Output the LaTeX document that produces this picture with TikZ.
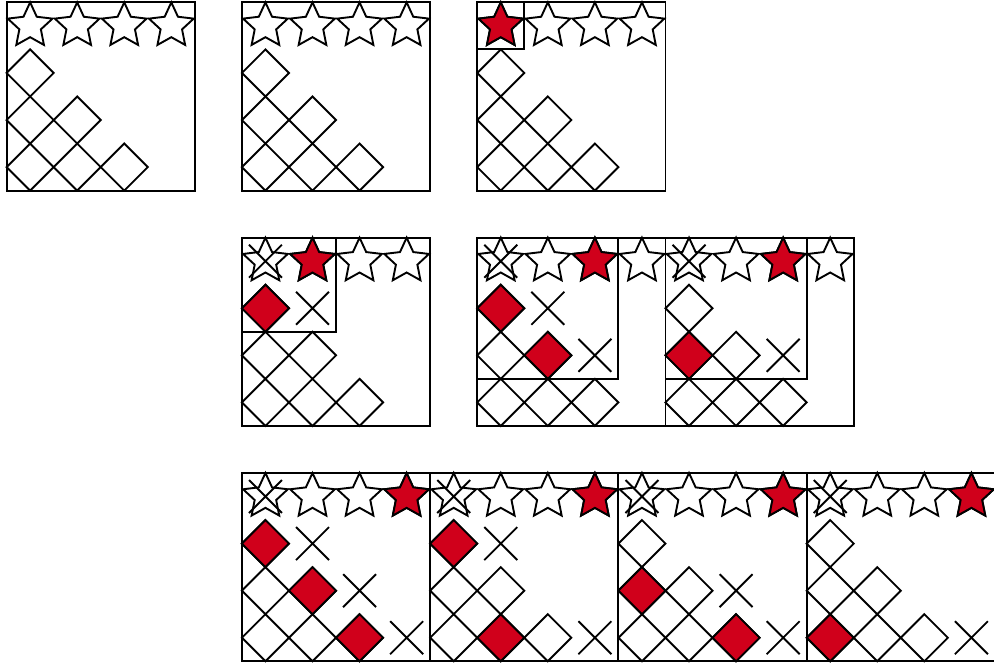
\documentclass[tikz,border=0pt]{standalone}
\usepackage{tikz}
\definecolor{rouge}{RGB}{208,0,27}
\tikzset{
  losange/.pic={\path[draw,pic actions](0,0.5)--(0.5,0)--(0,-0.5)--(-0.5,0)--cycle;},
  etoile/.pic={\path[draw,pic actions](90:0.5)
    \foreach \a in {1,...,9}{--(90+36*\a:{0.37+0.13*cos(180*\a)})}--cycle;},
  croix/.pic={\draw(-0.35,-0.35)--(0.35,0.35)(-0.35,0.35)--(0.35,-0.35);}
}
\newcommand{\grille}{%
  \foreach \c in {0,...,3}{\pic at (\c+0.5,-0.5){etoile};}
  \foreach \c/\r in {0/1,0/2,1/2,0/3,1/3,2/3}{\pic at (\c+0.5,-\r-0.5){losange};}
  \draw(0,0) rectangle (4,-4);}
\newcommand{\marques}[3]{%
  \pic at (0.5,-0.5){croix};
  \pic[fill=rouge] at (#1+0.5,-0.5){etoile};
  \foreach \c/\r in {#2}{\pic[fill=rouge] at (\c+0.5,-\r-0.5){losange};}
  \foreach \c/\r in {#3}{\pic at (\c+0.5,-\r-0.5){croix};}}

\begin{document}
\begin{tikzpicture}[line width=1.15pt]
  \useasboundingbox (-0.14,0.05) rectangle (20.98,-14.12);
  \begin{scope}[shift={(0,0)}]\grille\end{scope}
  \begin{scope}[shift={(5,0)}]\grille\end{scope}
  \begin{scope}[shift={(10,0)}]
    \grille
    \pic[fill=rouge] at (0.5,-0.5){etoile};
    \draw(0,0) rectangle (1,-1);
  \end{scope}
  \begin{scope}[shift={(5,-5)}]
    \grille \marques{1}{0/1}{1/1}
    \draw(0,0) rectangle (2,-2);
  \end{scope}
  \begin{scope}[shift={(10,-5)}]
    \grille \marques{2}{0/1,1/2}{1/1,2/2}
    \draw(0,0) rectangle (3,-3);
  \end{scope}
  \begin{scope}[shift={(14,-5)}]
    \grille \marques{2}{0/2}{2/2}
    \draw(0,0) rectangle (3,-3);
  \end{scope}
  \begin{scope}[shift={(5,-10)}]
    \grille \marques{3}{0/1,1/2,2/3}{1/1,2/2,3/3}
  \end{scope}
  \begin{scope}[shift={(9,-10)}]
    \grille \marques{3}{0/1,1/3}{1/1,3/3}
  \end{scope}
  \begin{scope}[shift={(13,-10)}]
    \grille \marques{3}{0/2,2/3}{2/2,3/3}
  \end{scope}
  \begin{scope}[shift={(17,-10)}]
    \grille \marques{3}{0/3}{3/3}
  \end{scope}
\end{tikzpicture}
\end{document}
